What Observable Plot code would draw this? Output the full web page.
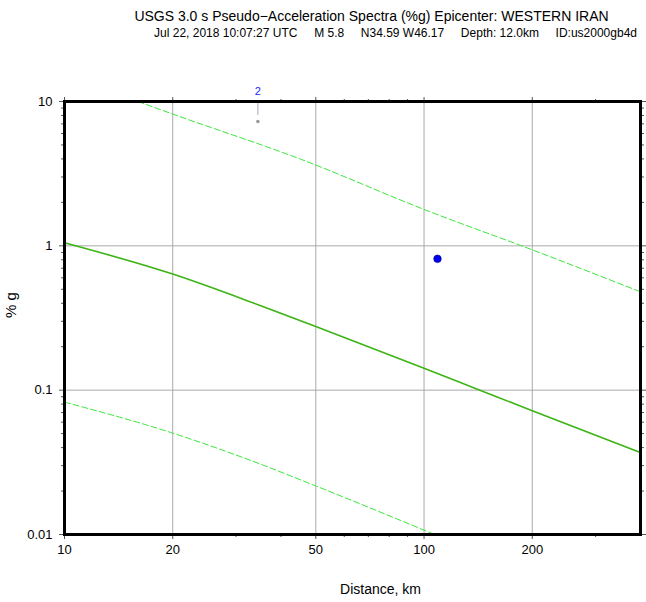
<!DOCTYPE html>
<html>
<head>
<meta charset="utf-8">
<script src="https://cdn.jsdelivr.net/npm/d3@7"></script>
<script src="https://cdn.jsdelivr.net/npm/@observablehq/plot@0.6"></script>
<style>
  html, body { margin: 0; padding: 0; background: #fff; }
</style>
</head>
<body>
<div id="chart"></div>
<script>
// ---- data ----
const gap = "\u00a0\u00a0\u00a0\u00a0\u00a0";
const titleText = "USGS 3.0 s Pseudo\u2212Acceleration Spectra (%g) Epicenter: WESTERN IRAN";
const subtitleParts = ["Jul 22, 2018 10:07:27 UTC", "M 5.8", "N34.59 W46.17", "Depth: 12.0km", "ID:us2000gb4d"];
const subtitleText = subtitleParts.join(gap);
const xLabel = "Distance, km";
const yLabel = "% g";

const medianDist = [10, 20, 35, 50, 100, 143, 200, 400];
const medianVal  = [1.05, 0.637, 0.386, 0.276, 0.142, 0.100, 0.072, 0.037];

const upperDist = [16, 20, 45.3, 104, 200, 400];
const upperVal  = [10, 8.18, 3.99, 1.72, 0.938, 0.48];

const lowerDist = [10, 20, 35, 50, 107];
const lowerVal  = [0.0826, 0.0504, 0.0308, 0.0217, 0.01];

const stationDist  = [109, 34.5];
const stationVal   = [0.813, 7.27];
const stationKind  = ["blue", "grey"];
const labelStation = [{d: 34.5, v: 7.27, label: "2"}];

const xMajor = [10, 20, 50, 100, 200];
const xMinor = [30, 40, 60, 70, 80, 90, 300];
const yMajor = [0.01, 0.1, 1, 10];
const yMinor = [0.02,0.03,0.04,0.05,0.06,0.07,0.08,0.09,
                0.2,0.3,0.4,0.5,0.6,0.7,0.8,0.9,
                2,3,4,5,6,7,8,9];
const xGrid = [20, 50, 100, 200];
const yGrid = [0.1, 1];

const toRows = (xs, ys) => xs.map((x, i) => ({x, y: ys[i]}));
const median = toRows(medianDist, medianVal);
const upper = toRows(upperDist, upperVal);
const lower = toRows(lowerDist, lowerVal);
const stations = stationDist.map((d, i) => ({d, v: stationVal[i], kind: stationKind[i]}));

const tickColor = "#555";

const chart = Plot.plot({
  width: 646,
  height: 602,
  marginLeft: 64,
  marginRight: 6,
  marginTop: 101,
  marginBottom: 68,
  x: {type: "log", domain: [10, 400]},
  y: {type: "log", domain: [0.01, 10]},
  style: {fontFamily: "'Liberation Sans', Arial, Helvetica, sans-serif", fontSize: "13px", background: "#fff", color: "#000"},
  marks: [
    Plot.ruleX(xGrid, {stroke: "#aaa", strokeWidth: 1}),
    Plot.ruleY(yGrid, {stroke: "#aaa", strokeWidth: 1}),
    Plot.line(upper, {x: "x", y: "y", stroke: "#3ce63c", strokeWidth: 1, strokeDasharray: "6,3", curve: "monotone-x", clip: true}),
    Plot.line(lower, {x: "x", y: "y", stroke: "#3ce63c", strokeWidth: 1, strokeDasharray: "6,3", curve: "monotone-x", clip: true}),
    Plot.line(median, {x: "x", y: "y", stroke: "#3cb414", strokeWidth: 1.6, curve: "monotone-x", clip: true}),
    Plot.ruleX(labelStation, {x: "d", y1: () => 10, y2: d => d.v * 1.1, stroke: "#aab", strokeWidth: 1}),
    Plot.dot(stations.filter(s => s.kind === "grey"), {x: "d", y: "v", r: 1.8, fill: "#999", stroke: "none"}),
    Plot.dot(stations.filter(s => s.kind === "blue"), {x: "d", y: "v", r: 3.8, fill: "#0000f0", stroke: "#000080", strokeWidth: 0.6}),
    Plot.text(labelStation, {x: "d", y: () => 10, text: "label", dy: -10.5, fill: "#1e1eff", fontSize: 11}),
    // axes bottom
    Plot.axisX(xMajor, {anchor: "bottom", tickSize: 5, tickPadding: 5, stroke: tickColor, tickFormat: d => String(d), label: null, fontSize: 13}),
    Plot.axisX(xMinor, {anchor: "bottom", tickSize: 3, text: null, stroke: tickColor, label: null}),
    // axes top
    Plot.axisX(xMajor, {anchor: "top", tickSize: 5, text: null, stroke: tickColor, label: null}),
    Plot.axisX(xMinor, {anchor: "top", tickSize: 3, text: null, stroke: tickColor, label: null}),
    // axes left
    Plot.axisY(yMajor, {anchor: "left", tickSize: 5, tickPadding: 7, stroke: tickColor, tickFormat: d => String(d), label: null, fontSize: 13}),
    Plot.axisY(yMinor, {anchor: "left", tickSize: 3, text: null, stroke: tickColor, label: null}),
    // axes right
    Plot.axisY(yMajor, {anchor: "right", tickSize: 5, text: null, stroke: tickColor, label: null}),
    Plot.axisY(yMinor, {anchor: "right", tickSize: 3, text: null, stroke: tickColor, label: null}),
    Plot.frame({stroke: "#000", strokeWidth: 3}),
    // titles
    Plot.text([titleText], {frameAnchor: "top", dx: 19, dy: -90.5, fontSize: 14, fill: "#000"}),
    Plot.text([subtitleText], {frameAnchor: "top", dx: 43, dy: -73.5, fontSize: 12, fill: "#000"}),
    Plot.text([xLabel], {frameAnchor: "bottom", dx: 28, dy: 59, fontSize: 14, fill: "#000"}),
    Plot.text([yLabel], {frameAnchor: "left", dx: -53, rotate: -90, fontSize: 15, fill: "#000"})
  ]
});
document.getElementById("chart").appendChild(chart);
</script>
</body>
</html>
